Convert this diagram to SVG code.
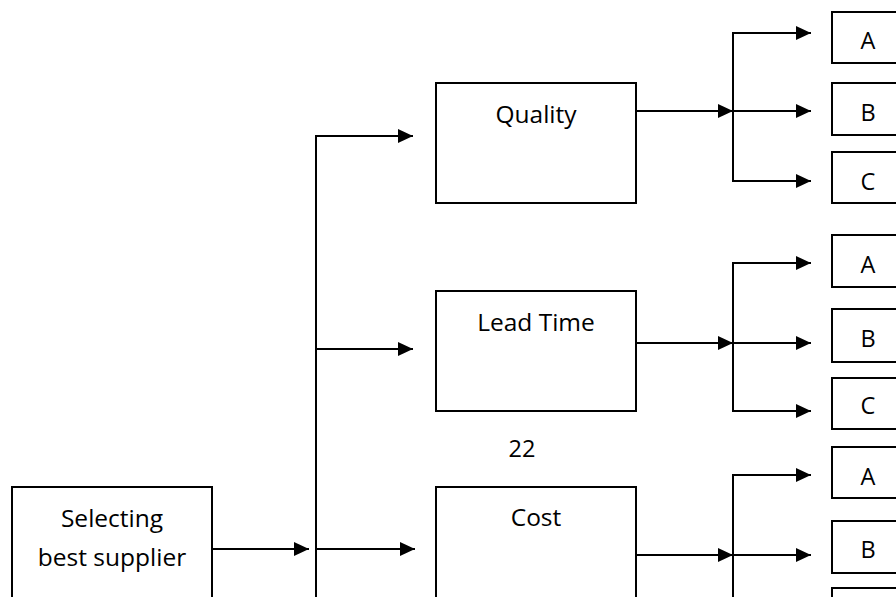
<svg xmlns="http://www.w3.org/2000/svg" width="896" height="597" viewBox="0 0 896 597">
  <style>
    .box { fill: #ffffff; stroke: #000000; stroke-width: 2; }
    .lbl { font-family: "Open Sans", "Liberation Sans", sans-serif; font-size: 24.5px; fill: #000000; text-anchor: middle; }
    .opt { font-family: "Open Sans", "Liberation Sans", sans-serif; font-size: 23.5px; fill: #000000; text-anchor: middle; }
    .wire { fill: none; stroke: #000000; stroke-width: 2; }
    .arrow { fill: none; stroke: #000000; stroke-width: 2; marker-end: url(#head); }
  </style>
  <defs>
    <marker id="head" markerUnits="userSpaceOnUse" markerWidth="16" markerHeight="15" refX="15" refY="7" orient="auto">
      <path d="M0,0 L15,7 L0,14 z" fill="#000000"/>
    </marker>
  </defs>
  <rect width="896" height="597" fill="#ffffff"/>

  <g id="connectors">
    <!-- root to trunk -->
    <line class="arrow" x1="212" y1="549" x2="309" y2="549"/>
    <line class="wire" x1="316" y1="135" x2="316" y2="597"/>
    <line class="arrow" x1="316" y1="136" x2="413" y2="136"/>
    <line class="arrow" x1="316" y1="349" x2="413" y2="349"/>
    <line class="arrow" x1="316" y1="549" x2="415" y2="549"/>
    <!-- quality branches -->
    <line class="arrow" x1="636" y1="111" x2="733" y2="111"/>
    <line class="wire" x1="733" y1="32" x2="733" y2="182"/>
    <line class="arrow" x1="733" y1="33" x2="811" y2="33"/>
    <line class="arrow" x1="733" y1="111" x2="811" y2="111"/>
    <line class="arrow" x1="733" y1="181" x2="811" y2="181"/>
    <!-- lead time branches -->
    <line class="arrow" x1="636" y1="343" x2="733" y2="343"/>
    <line class="wire" x1="733" y1="262" x2="733" y2="412"/>
    <line class="arrow" x1="733" y1="263" x2="811" y2="263"/>
    <line class="arrow" x1="733" y1="343" x2="811" y2="343"/>
    <line class="arrow" x1="733" y1="411" x2="811" y2="411"/>
    <!-- cost branches -->
    <line class="arrow" x1="636" y1="555" x2="733" y2="555"/>
    <line class="wire" x1="733" y1="474" x2="733" y2="597"/>
    <line class="arrow" x1="733" y1="475" x2="811" y2="475"/>
    <line class="arrow" x1="733" y1="555" x2="811" y2="555"/>
  </g>

  <g id="root">
    <rect class="box" x="12" y="487" width="200" height="130"/>
    <text class="lbl" x="112" y="527">Selecting</text>
    <text class="lbl" x="112" y="566">best supplier</text>
  </g>

  <g id="quality">
    <rect class="box" x="436" y="83" width="200" height="120"/>
    <text class="lbl" x="536" y="123">Quality</text>
  </g>
  <g id="lead-time">
    <rect class="box" x="436" y="291" width="200" height="120"/>
    <text class="lbl" x="536" y="331">Lead Time</text>
  </g>
  <text id="page-number" class="opt" x="522" y="457">22</text>
  <g id="cost">
    <rect class="box" x="436" y="487" width="200" height="130"/>
    <text class="lbl" x="536" y="526">Cost</text>
  </g>

  <g id="quality-a">
    <rect class="box" x="832" y="12" width="80" height="51"/>
    <text class="opt" x="868" y="49">A</text>
  </g>
  <g id="quality-b">
    <rect class="box" x="832" y="83" width="80" height="52"/>
    <text class="opt" x="868" y="121">B</text>
  </g>
  <g id="quality-c">
    <rect class="box" x="832" y="152" width="80" height="51"/>
    <text class="opt" x="868" y="190">C</text>
  </g>

  <g id="lead-a">
    <rect class="box" x="832" y="235" width="80" height="52"/>
    <text class="opt" x="868" y="273">A</text>
  </g>
  <g id="lead-b">
    <rect class="box" x="832" y="309" width="80" height="53"/>
    <text class="opt" x="868" y="347">B</text>
  </g>
  <g id="lead-c">
    <rect class="box" x="832" y="378" width="80" height="51"/>
    <text class="opt" x="868" y="414">C</text>
  </g>

  <g id="cost-a">
    <rect class="box" x="832" y="447" width="80" height="51"/>
    <text class="opt" x="868" y="485">A</text>
  </g>
  <g id="cost-b">
    <rect class="box" x="832" y="521" width="80" height="52"/>
    <text class="opt" x="868" y="558">B</text>
  </g>
  <g id="cost-c">
    <rect class="box" x="832" y="588" width="80" height="52"/>
  </g>
</svg>
